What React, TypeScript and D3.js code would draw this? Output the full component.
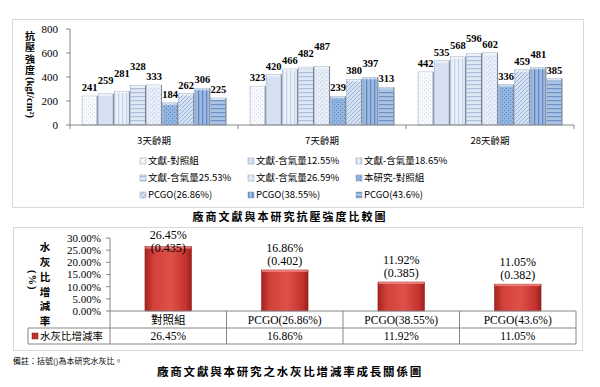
import * as d3 from "d3";

const ages = ["3天齡期", "7天齡期", "28天齡期"];
const series = [
  "文獻-對照組",
  "文獻-含氣量12.55%",
  "文獻-含氣量18.65%",
  "文獻-含氣量25.53%",
  "文獻-含氣量26.59%",
  "本研究-對照組",
  "PCGO(26.86%)",
  "PCGO(38.55%)",
  "PCGO(43.6%)",
];
const strength3 = [241, 259, 281, 328, 333, 184, 262, 306, 225];
const strength7 = [323, 420, 466, 482, 487, 239, 380, 397, 313];
const strength28 = [442, 535, 568, 596, 602, 336, 459, 481, 385];
const strengthTicks = [0, 200, 400, 600, 800];

const wcGroups = ["對照組", "PCGO(26.86%)", "PCGO(38.55%)", "PCGO(43.6%)"];
const wcRate = [26.45, 16.86, 11.92, 11.05];
const wcRatio = [0.435, 0.402, 0.385, 0.382];
const rateTicks = [0, 5, 10, 15, 20, 25, 30];

const CJK = "'Noto Sans CJK TC', 'Noto Sans CJK SC', sans-serif";
const SERIF = "'Liberation Serif', 'DejaVu Serif', serif";

// pattern look of each series (Excel-like textures)
const looks = [
  { bg: "#f8fafd", fg: "#cdd9ea", kind: "dots" },
  { bg: "#d6e2f1", fg: "#c6d5ea", kind: "solid" },
  { bg: "#eaf0f8", fg: "#c0d1e9", kind: "vert" },
  { bg: "#dfe8f4", fg: "#a9bfde", kind: "horiz" },
  { bg: "#e8eef7", fg: "#bccde4", kind: "dots" },
  { bg: "#92b4e0", fg: "#5f88c2", kind: "dots" },
  { bg: "#d7e3f2", fg: "#8fabd4", kind: "diag" },
  { bg: "#9cb9df", fg: "#5f86c0", kind: "vert" },
  { bg: "#abc3e4", fg: "#6d92c8", kind: "horiz" },
];

function Pattern({ id, look }) {
  const { bg, fg, kind } = look;
  return (
    <pattern id={id} patternUnits="userSpaceOnUse" width={4} height={4}>
      <rect width={4} height={4} fill={bg} />
      {kind === "dots" && (
        <>
          <rect x={0} y={0} width={1} height={1} fill={fg} />
          <rect x={2} y={2} width={1} height={1} fill={fg} />
        </>
      )}
      {kind === "solid" && <rect x={0} y={0} width={1} height={1} fill={fg} />}
      {kind === "vert" && <rect x={0} y={0} width={1.2} height={4} fill={fg} />}
      {kind === "horiz" && <rect x={0} y={0} width={4} height={1.2} fill={fg} />}
      {kind === "diag" && (
        <path d="M0,4 L4,0 M-1,1 L1,-1 M3,5 L5,3" stroke={fg} strokeWidth={0.9} />
      )}
    </pattern>
  );
}

function StrengthChart() {
  const values = [strength3, strength7, strength28];
  const y = d3.scaleLinear().domain([0, 800]).range([125, 29]);
  const x0 = d3.scaleBand().domain(ages).range([70, 574]);
  const x1 = d3
    .scaleBand()
    .domain(series)
    .range([0, x0.bandwidth()])
    .paddingInner(0.06)
    .paddingOuter(0.75);
  const legendCols = [140, 248, 356];
  const legendRows = [161, 178, 195];

  // nudge labels up when they would sit on top of the previous one
  const labelY = values.map((vals) => {
    const out = [];
    vals.forEach((v, i) => {
      let ly = y(v) - 5;
      if (i > 0 && Math.abs(ly - out[i - 1]) < 5) ly = out[i - 1] - 7;
      out.push(ly);
    });
    return out;
  });

  return (
    <g>
      <rect x={12.5} y={19.5} width={571} height={188} fill="#fff" stroke="#d9d9d9" />
      {/* y axis */}
      <line x1={70} x2={70} y1={y(800)} y2={y(0)} stroke="#868686" />
      {strengthTicks.map((t) => (
        <g key={t}>
          <line x1={66} x2={70} y1={y(t)} y2={y(t)} stroke="#868686" />
          <text x={58} y={y(t)} dy="0.35em" textAnchor="end" fontSize={11} fontFamily={SERIF}>
            {t}
          </text>
        </g>
      ))}
      <text x={30} y={31} style={{ writingMode: "vertical-rl" }} fontSize={10} fontWeight="bold" fontFamily={CJK} letterSpacing={1.4}>
        抗壓強度
        <tspan fontFamily={SERIF} fontSize={10.5} letterSpacing={0}>(kgf/cm²)</tspan>
      </text>
      {/* bars */}
      {ages.map((a, gi) => (
        <g key={a} transform={`translate(${x0(a)},0)`}>
          {series.map((s, si) => {
            const v = values[gi][si];
            const bx = x1(s);
            const bw = x1.bandwidth();
            return (
              <g key={s}>
                <rect x={bx} y={y(v)} width={bw} height={y(0) - y(v)} fill={`url(#pat${si})`} stroke="#9aa9bf" strokeWidth={0.6} />
                <rect x={bx + 0.5} y={y(v)} width={bw - 1} height={2} fill="#fff" opacity={0.55} />
                <line x1={bx + bw} x2={bx + bw} y1={y(v)} y2={y(0)} stroke="#6f7d93" strokeWidth={0.9} />
                <text x={bx + bw / 2} y={labelY[gi][si]} textAnchor="middle" fontSize={10.5} fontWeight="bold" fontFamily={SERIF}>
                  {v}
                </text>
              </g>
            );
          })}
          <text x={x0.bandwidth() / 2} y={141} dy="0.35em" textAnchor="middle" fontSize={9.5} fontFamily={CJK}>
            {a}
          </text>
        </g>
      ))}
      <line x1={70} x2={574} y1={y(0)} y2={y(0)} stroke="#868686" />
      {[...ages.map((a) => x0(a)), 574].map((x, i) => (
        <line key={i} x1={x} x2={x} y1={y(0)} y2={y(0) + 4} stroke="#868686" />
      ))}
      {/* legend */}
      {series.map((s, i) => {
        const lx = legendCols[i % 3];
        const ly = legendRows[Math.floor(i / 3)];
        return (
          <g key={s}>
            <rect x={lx} y={ly - 3} width={6} height={6} fill={`url(#pat${i})`} stroke="#8a97aa" strokeWidth={0.5} />
            <text x={lx + 8} y={ly} dy="0.35em" fontSize={9.5} fontFamily={CJK}>
              {s}
            </text>
          </g>
        );
      })}
      <text x={290} y={217} dy="0.35em" textAnchor="middle" fontSize={11} fontWeight="bold" letterSpacing={2} fontFamily={CJK}>
        廠商文獻與本研究抗壓強度比較圖
      </text>
    </g>
  );
}

function RateChart() {
  const y = d3.scaleLinear().domain([0, 30]).range([311, 238]);
  const x = d3.scaleBand().domain(wcGroups).range([110, 576]);
  const bw = x.bandwidth() * 0.4;
  const rowTop = y(0);
  const rowMid = 328;
  const rowBot = 344;

  return (
    <g>
      <rect x={13.5} y={227.5} width={569} height={123} fill="#fff" stroke="#d9d9d9" />
      {rateTicks.map((t) => (
        <g key={t}>
          <line x1={106} x2={110} y1={y(t)} y2={y(t)} stroke="#868686" />
          <text x={101} y={y(t)} dy="0.35em" textAnchor="end" fontSize={11} fontFamily={SERIF}>
            {t.toFixed(2)}%
          </text>
        </g>
      ))}
      <text x={45} y={242} style={{ writingMode: "vertical-rl" }} fontSize={10.5} fontWeight="bold" fontFamily={CJK} letterSpacing={4.3}>
        水灰比增減率
      </text>
      <text x={32} y={270} style={{ writingMode: "vertical-rl" }} fontSize={10.5} fontWeight="bold" fontFamily={SERIF} letterSpacing={1}>
        (%)
      </text>
      {wcGroups.map((g, i) => {
        const cx = x(g) + x.bandwidth() / 2;
        const top = y(wcRate[i]);
        const ly = Math.max(top - 22, 235);
        return (
          <g key={g}>
            <rect x={cx - bw / 2} y={top} width={bw} height={y(0) - top} fill="url(#redGrad)" stroke="#8e1c19" strokeWidth={0.5} />
            <rect x={cx - bw / 2 + 0.5} y={top} width={bw - 1} height={2} fill="#f08a84" opacity={0.8} />
            <text x={cx} y={ly} dy="0.35em" textAnchor="middle" fontSize={12} fontFamily={SERIF}>
              {wcRate[i].toFixed(2)}%
            </text>
            <text x={cx} y={ly + 13} dy="0.35em" textAnchor="middle" fontSize={12} fontFamily={SERIF}>
              ({wcRatio[i].toFixed(3)})
            </text>
            <text x={cx} y={(rowTop + rowMid) / 2} dy="0.35em" textAnchor="middle" fontSize={11.5} fontFamily={/PCGO/.test(g) ? SERIF : CJK}>
              {g}
            </text>
            <text x={cx} y={(rowMid + rowBot) / 2} dy="0.35em" textAnchor="middle" fontSize={11.5} fontFamily={SERIF}>
              {wcRate[i].toFixed(2)}%
            </text>
          </g>
        );
      })}
      {/* axis + table grid */}
      <line x1={110} x2={110} y1={y(30)} y2={rowBot} stroke="#868686" />
      <line x1={110} x2={576} y1={rowTop} y2={rowTop} stroke="#868686" />
      <line x1={28} x2={576} y1={rowMid} y2={rowMid} stroke="#868686" />
      <line x1={28} x2={576} y1={rowBot} y2={rowBot} stroke="#868686" />
      <line x1={28} x2={28} y1={rowMid} y2={rowBot} stroke="#868686" />
      {wcGroups.map((g) => (
        <line key={g} x1={x(g) + x.bandwidth()} x2={x(g) + x.bandwidth()} y1={rowTop} y2={rowBot} stroke="#868686" />
      ))}
      <rect x={32} y={333} width={6} height={6} fill="#c0312d" stroke="#8e1c19" strokeWidth={0.5} />
      <text x={40} y={(rowMid + rowBot) / 2} dy="0.35em" fontSize={10.5} fontFamily={CJK}>
        水灰比增減率
      </text>
      <text x={13} y={361} dy="0.35em" fontSize={8} fontFamily={CJK}>
        備註：括號()為本研究水灰比。
      </text>
      <text x={290} y={372} dy="0.35em" textAnchor="middle" fontSize={11.5} fontWeight="bold" letterSpacing={1.8} fontFamily={CJK}>
        廠商文獻與本研究之水灰比增減率成長關係圖
      </text>
    </g>
  );
}

export default function App() {
  return (
    <svg width={600} height={387} style={{ position: "absolute", left: 0, top: 0, background: "#fff" }}>
      <defs>
        {looks.map((l, i) => (
          <Pattern key={i} id={`pat${i}`} look={l} />
        ))}
        <linearGradient id="redGrad" x1="0" x2="1" y1="0" y2="0">
          <stop offset="0%" stopColor="#a3231f" />
          <stop offset="18%" stopColor="#d2403a" />
          <stop offset="55%" stopColor="#de514a" />
          <stop offset="88%" stopColor="#c4332e" />
          <stop offset="100%" stopColor="#9a1f1b" />
        </linearGradient>
      </defs>
      <rect width={600} height={387} fill="#fff" />
      <StrengthChart />
      <RateChart />
    </svg>
  );
}
